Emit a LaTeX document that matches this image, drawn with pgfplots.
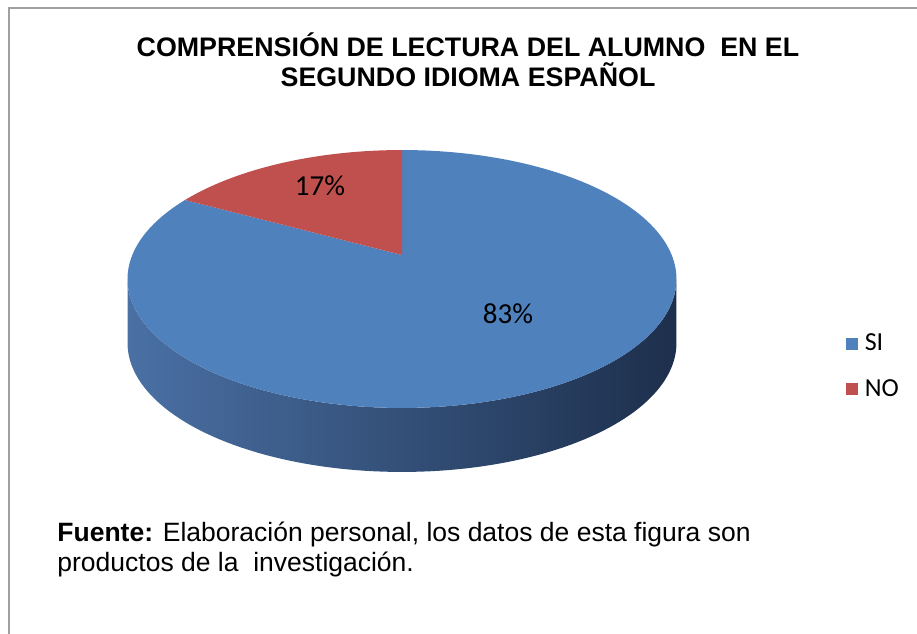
\documentclass[border=0pt]{standalone}
\usepackage{pgfplots}
\pgfplotsset{compat=1.18}
\usepackage{pgfplotstable}
\usepackage{fontspec}
\setmainfont{Liberation Sans}
\newfontfamily\calibri{Carlito}
\definecolor{blueC}{RGB}{79,129,189}
\definecolor{redC}{RGB}{192,80,77}
\definecolor{sideL}{RGB}{74,112,164}
\definecolor{sideM}{RGB}{52,85,128}
\definecolor{sideR}{RGB}{29,47,76}
\definecolor{frameC}{RGB}{160,160,160}
\pgfplotstableread{
label value
SI 83
NO 17
}\piedata
\pgfplotstablegetelem{0}{value}\of\piedata \let\vSI\pgfplotsretval
\pgfplotstablegetelem{1}{value}\of\piedata \let\vNO\pgfplotsretval
\pgfmathsetmacro\aNO{90+3.6*\vNO}
\pgfmathsetmacro\aEnd{90+3.6*(\vNO+\vSI)}
\begin{document}
\begin{tikzpicture}
\begin{axis}[
  at={(0,0)}, anchor=south west,
  width=458.5pt, height=316.5pt, scale only axis,
  xmin=0, xmax=917, ymin=0, ymax=633, y dir=reverse,
  hide axis, clip=false,
  declare function={
    px(\t)=402+269.7*cos(\t)/(1+0.186*sin(\t));
    py(\t)=255-124.5*sin(\t)/(1+0.186*sin(\t));
  },
  legend style={at={(axis cs:846,331)}, anchor=north west, draw=none, fill=none,
    font=\calibri\fontsize{13}{15}\selectfont, row sep=10.5pt, inner sep=0pt,
    nodes={inner sep=1.2pt},
    /tikz/every odd column/.append style={column sep=2pt}},
  legend cell align=left,
  legend image code/.code={\fill[#1,draw=none] (0pt,-3pt) rectangle (6pt,3pt);},
]
% side of the pie
\addplot[forget plot, draw=none, left color=sideL, middle color=sideM, right color=sideR,
  domain=190.7:507.9, samples=201, variable=\t]
  ({px(ifthenelse(\t<349.8,\t,698.6-\t))},
   {py(ifthenelse(\t<349.8,\t,698.6-\t)) + 64*(\t>349.8)}) -- cycle;
% SI slice
\addplot[forget plot, draw=none, fill=blueC, domain=\aNO:\aEnd, samples=200, variable=\t]
  ({px(\t)},{py(\t)}) -- (axis cs:402,255) -- cycle;
% NO slice
\addplot[forget plot, draw=none, fill=redC, domain=90:\aNO, samples=60, variable=\t]
  ({px(\t)},{py(\t)}) -- (axis cs:402,255) -- cycle;
\addlegendimage{fill=blueC}
\addlegendentry{SI}
\addlegendimage{fill=redC}
\addlegendentry{NO}
% labels
\node[font=\calibri\fontsize{14.5}{16}\selectfont] at (axis cs:320,186) {17\%};
\node[font=\calibri\fontsize{14.5}{16}\selectfont] at (axis cs:508,314) {83\%};
% title
\node[anchor=base, font=\bfseries\fontsize{13.4}{15}\selectfont] at (axis cs:468,56) {COMPRENSIÓN DE LECTURA DEL ALUMNO\ \ EN EL};
\node[anchor=base, font=\bfseries\fontsize{13.4}{15}\selectfont] at (axis cs:468,86) {SEGUNDO IDIOMA ESPAÑOL};
% source
\node[anchor=base west, inner sep=0pt, font=\fontsize{13.25}{15}\selectfont] at (axis cs:57,541) {\textbf{Fuente:} Elaboración personal, los datos de esta figura son};
\node[anchor=base west, inner sep=0pt, font=\fontsize{13.25}{15}\selectfont] at (axis cs:57,571) {productos de la\ \ investigación.};
% frame
\draw[frameC, line width=1pt] (axis cs:8.5,640) -- (axis cs:8.5,7.5) -- (axis cs:930,7.5);
\end{axis}
\pgfresetboundingbox
\useasboundingbox (0,0) rectangle (458.5pt,316.5pt);
\end{tikzpicture}
\end{document}
